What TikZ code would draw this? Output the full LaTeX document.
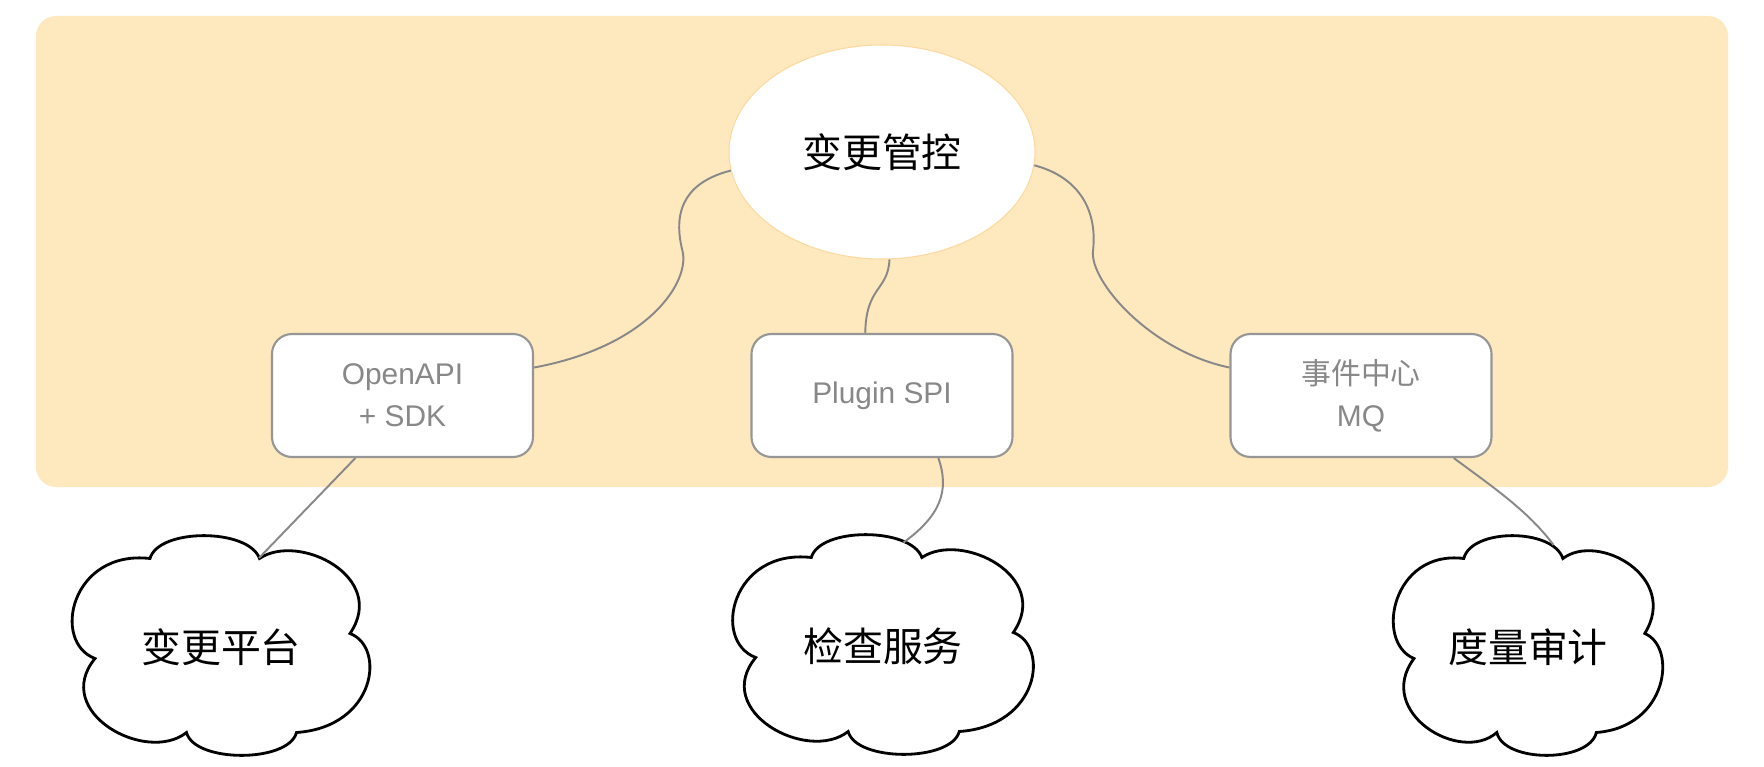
\documentclass[tikz,border=0pt]{standalone}
\usepackage{fontspec}
\setmainfont{Liberation Sans}
\newfontfamily\cjk{Noto Sans CJK SC}
\usepackage{tikz}
\usetikzlibrary{shapes.geometric}
\definecolor{panel}{RGB}{254,232,190}
\definecolor{panelline}{RGB}{253,217,160}
\definecolor{linkgray}{RGB}{136,136,136}
\definecolor{boxgray}{RGB}{150,150,150}
\tikzset{ctlnode/.style={ellipse, draw=panelline, fill=white, line width=0.6pt, minimum width=6.12cm, minimum height=4.28cm, font=\cjk\fontsize{22.7}{27}\selectfont},
    apibox/.style={rectangle, rounded corners=0.4cm, draw=boxgray, fill=white, line width=1.2pt, minimum width=5.22cm, minimum height=2.46cm, align=center, text=linkgray, font=\fontsize{17}{24}\selectfont},
    cloudline/.style={draw=black, fill=white, line width=1.6pt},
    cloudtext/.style={inner sep=0pt, font=\cjk\fontsize{22.7}{27}\selectfont},
    link/.style={draw=linkgray, line width=1.1pt}}
\newcommand{\puffcloud}[5]{%
    \begin{scope}[shift={#1}]
        \draw[cloudline, xscale=#2] (-1.42,1.77) .. controls (-1.25,2.38) and (0.55,2.38) .. (0.77,1.77)
            .. controls (1.55,2.3) and (3.35,1.4) .. (2.58,0.27)
            .. controls (3.3,0.0) and (3.1,-1.6) .. (1.51,-1.71)
            .. controls (1.35,-2.32) and (-0.53,-2.32) .. (-0.69,-1.71)
            .. controls (-1.5,-2.35) and (-3.4,-1.3) .. (-2.52,-0.23)
            .. controls (-3.4,0.1) and (-3.0,1.95) .. (-1.42,1.77) -- cycle;
        \node[cloudtext] (#3) at (0,0) {#4};
        \coordinate (#3top) at #5;
    \end{scope}}
\begin{document}
\begin{tikzpicture}
            \useasboundingbox (0,0) rectangle (35.28,15.32);
            \fill[panel, rounded corners=0.4cm] (0.72,5.58) rectangle (34.56,15.0);
            \node[ctlnode] (ctl) at (17.64,12.28) {变更管控};
            \node[apibox] (api) at (8.05,7.41) {OpenAPI\\+ SDK};
            \node[apibox] (spi) at (17.64,7.41) {Plugin SPI};
            \node[apibox] (mq) at (27.22,7.41) {{\cjk 事件中心}\\MQ};
            \puffcloud{(4.42,2.38)}{1.0}{plat}{变更平台}{(0.76,1.78)}
            \puffcloud{(17.66,2.40)}{1.01}{check}{检查服务}{(0.41,2.07)}
            \puffcloud{(30.56,2.38)}{0.905}{audit}{度量审计}{(0.51,2.04)}
            \draw[link] (ctl.187) .. controls (13.8,11.7) and (13.42,11.2) .. (13.65,10.3) .. controls (13.8,9.7) and (13.0,8.4) .. (api.12);
            \draw[link] (ctl.274) .. controls (17.76,9.5) and (17.32,9.6) .. (spi.105);
            \draw[link] (ctl.355) .. controls (21.5,11.8) and (21.96,11.2) .. (21.86,10.3) .. controls (21.79,9.7) and (23.0,8.3) .. (mq.168);
            \draw[link] (api.233) -- (plattop);
            \draw[link] (spi.312) .. controls (19.0,5.5) and (18.8,5.0) .. (checktop);
            \draw[link] (mq.326) .. controls (29.8,5.62) and (30.56,5.11) .. (audittop);
\end{tikzpicture}
\end{document}
